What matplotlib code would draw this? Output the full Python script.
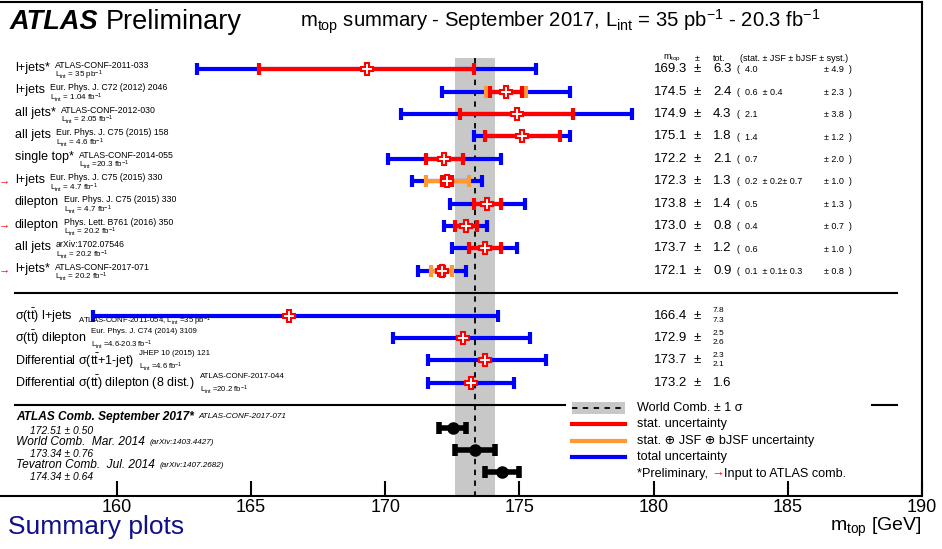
import numpy as np
import matplotlib
matplotlib.use("Agg")
import matplotlib.pyplot as plt
from matplotlib.transforms import blended_transform_factory
from matplotlib.lines import Line2D
from matplotlib.patches import Rectangle

main_font = 'Liberation Sans'
plt.rcParams['font.family'] = [main_font, 'DejaVu Sans']
plt.rcParams['mathtext.fontset'] = 'custom'
plt.rcParams['mathtext.rm'] = main_font
plt.rcParams['mathtext.it'] = main_font + ':italic'
plt.rcParams['mathtext.bf'] = main_font + ':bold'

# ---- data: individual m_top measurements ----
labels = ["l+jets*", "l+jets", "all jets*", "all jets", "single top*",
          "l+jets", "dilepton", "dilepton", "all jets", "l+jets*"]
refs = ["ATLAS-CONF-2011-033", "Eur. Phys. J. C72 (2012) 2046", "ATLAS-CONF-2012-030",
        "Eur. Phys. J. C75 (2015) 158", "ATLAS-CONF-2014-055", "Eur. Phys. J. C75 (2015) 330",
        "Eur. Phys. J. C75 (2015) 330", "Phys. Lett. B761 (2016) 350", "arXiv:1702.07546",
        "ATLAS-CONF-2017-071"]
lumis = [r"= 35 pb$^{-1}$", r"= 1.04 fb$^{-1}$", r"= 2.05 fb$^{-1}$", r"= 4.6 fb$^{-1}$",
         r"=20.3 fb$^{-1}$", r"= 4.7 fb$^{-1}$", r"= 4.7 fb$^{-1}$", r"= 20.2 fb$^{-1}$",
         r"= 20.2 fb$^{-1}$", r"= 20.2 fb$^{-1}$"]
atlas_input = [0, 0, 0, 0, 0, 1, 0, 1, 0, 1]
mtop = [169.3, 174.5, 174.9, 175.1, 172.2, 172.3, 173.8, 173.0, 173.7, 172.1]
tot = [6.3, 2.4, 4.3, 1.8, 2.1, 1.3, 1.4, 0.8, 1.2, 0.9]
stat = [4.0, 0.6, 2.1, 1.4, 0.7, 0.2, 0.5, 0.4, 0.6, 0.1]
jsf = [None, 0.4, None, None, None, 0.2, None, None, None, 0.1]
bjsf = [None, None, None, None, None, 0.7, None, None, None, 0.3]
syst = [4.9, 2.3, 3.8, 1.2, 2.0, 1.0, 1.3, 0.7, 1.0, 0.8]
stat_jsf_bjsf = [np.nan, 0.75, np.nan, np.nan, np.nan, 0.8, np.nan, np.nan, np.nan, 0.4]

# ---- data: cross-section based measurements ----
xs_labels = [r"σ(t$\bar{\rm t}$) l+jets", r"σ(t$\bar{\rm t}$) dilepton",
             r"Differential σ(t$\bar{\rm t}$+1-jet)", r"Differential σ(t$\bar{\rm t}$) dilepton (8 dist.)"]
xs_refs = [r"ATLAS-CONF-2011-054, L$_{\rm int}$ =35 pb$^{-1}$", "Eur. Phys. J. C74 (2014) 3109",
           "JHEP 10 (2015) 121", "ATLAS-CONF-2017-044"]
xs_lumis = [None, r"=4.6-20.3 fb$^{-1}$", r"=4.6 fb$^{-1}$", r"=20.2 fb$^{-1}$"]
xs_mtop = [166.4, 172.9, 173.7, 173.2]
xs_up = [7.8, 2.5, 2.3, 1.6]
xs_dn = [7.3, 2.6, 2.1, 1.6]

# ---- data: combinations ----
comb_names = ["ATLAS Comb. September 2017*", "World Comb.  Mar. 2014", "Tevatron Comb.  Jul. 2014"]
comb_refs = ["ATLAS-CONF-2017-071", "(arXiv:1403.4427)", "(arXiv:1407.2682)"]
comb_vals = [172.51, 173.34, 174.34]
comb_errs = [0.50, 0.76, 0.64]
world_val, world_err = 173.34, 0.76

blue, red, orange, band = '#0000ff', '#ff0000', '#ff9933', '#c8c8c8'

W, H = 942, 549
fig = plt.figure(figsize=(W / 100, H / 100), dpi=100)
ax_w = 922
ax = fig.add_axes([0, 1 - 496 / H, ax_w / W, 494 / H])
ax.set_xlim(155.64, 190.0)
ax.set_ylim(19.05, -3.0)
blend = blended_transform_factory(ax.transAxes, ax.transData)


def fx(px):
    return px / ax_w


def fp(x, y):
    return x / W, 1 - y / H


y_meas = np.arange(10)
y_xs = np.arange(11, 15)
y_comb = np.arange(16, 19)

# world combination band
ax.fill_betweenx([-0.5, 19.05], world_val - world_err, world_val + world_err, color=band, lw=0, zorder=1)
ax.plot([world_val, world_val], [-0.5, 19.05], color='k', lw=1.3, ls=(0, (3, 3)), zorder=2)

eb = dict(fmt='none', capsize=4, capthick=3, elinewidth=3, zorder=3)
mtop_a = np.array(mtop)
ax.errorbar(mtop_a, y_meas, xerr=tot, ecolor=blue, **eb)
sj = np.array(stat_jsf_bjsf)
m = ~np.isnan(sj)
ax.errorbar(mtop_a[m], y_meas[m], xerr=sj[m], ecolor=orange, **eb)
ax.errorbar(mtop_a, y_meas, xerr=stat, ecolor=red, **eb)
ax.plot(mtop_a, y_meas, 'P', ms=8, mfc='white', mec=red, mew=1.5, zorder=4)

ax.errorbar(xs_mtop, y_xs, xerr=[xs_dn, xs_up], ecolor=blue, **eb)
ax.plot(xs_mtop, y_xs, 'P', ms=8, mfc='white', mec=red, mew=1.5, zorder=4)

ax.errorbar(comb_vals, y_comb, xerr=comb_errs, fmt='o', color='k', ms=8,
            capsize=4, capthick=4, elinewidth=4, zorder=4)

# separators
ax.plot([fx(15), fx(897)], [10, 10], transform=blend, color='k', lw=1.5, clip_on=False)
ax.plot([fx(15), fx(565)], [15, 15], transform=blend, color='k', lw=1.5, clip_on=False)
ax.plot([fx(872), fx(897)], [15, 15], transform=blend, color='k', lw=1.5, clip_on=False)

# axes styling
ax.spines['left'].set_visible(False)
for s in ('top', 'right', 'bottom'):
    ax.spines[s].set_linewidth(1.5)
ax.set_yticks([])
ax.set_xticks(np.arange(160, 191, 5))
ax.tick_params(axis='x', direction='in', length=11, width=1.5, pad=2, labelsize=13)

fig.canvas.draw()
rend = fig.canvas.get_renderer()


def right_px(t):
    return t.get_window_extent(rend).x1


# measurement labels
for i, y in enumerate(y_meas):
    t = ax.text(fx(15), y - 0.06, labels[i], transform=blend, fontsize=9, va='center')
    x1 = right_px(t) + 5
    ax.text(fx(x1), y - 0.17, refs[i], transform=blend, fontsize=6.3, va='center')
    ax.text(fx(x1), y + 0.27, r"L$_{\rm int}$ " + lumis[i], transform=blend, fontsize=5.8, va='center')
    if atlas_input[i]:
        ax.text(fx(-1), y - 0.06, "→", transform=blend, fontsize=8, va='center', color=red)
    ax.text(fx(654), y, f"{mtop[i]:.1f}", transform=blend, fontsize=9.5, va='center')
    ax.text(fx(697), y, "±", transform=blend, fontsize=9.5, va='center', ha='center')
    ax.text(fx(713), y, f"{tot[i]:.1f}", transform=blend, fontsize=9.5, va='center')
    br = f"(  {stat[i]:.1f}"
    if jsf[i] is not None:
        br += f"  ± {jsf[i]:.1f}"
    if bjsf[i] is not None:
        br += f"± {bjsf[i]:.1f}"
    ax.text(fx(737), y + 0.03, br, transform=blend, fontsize=6.5, va='center')
    ax.text(fx(824), y + 0.03, f"± {syst[i]:.1f}  )", transform=blend, fontsize=6.5, va='center')

# header
hy = -0.5
ax.text(fx(663), hy, r"m$_{\rm top}$", transform=blend, fontsize=6.5, va='center')
ax.text(fx(697), hy, "±", transform=blend, fontsize=6.5, va='center', ha='center')
ax.text(fx(713), hy, "tot.", transform=blend, fontsize=6.5, va='center')
ax.text(fx(740), hy, "(stat. ± JSF ± bJSF ± syst.)", transform=blend, fontsize=6.5, va='center')

# cross-section labels
for i, y in enumerate(y_xs):
    t = ax.text(fx(15), y, xs_labels[i], transform=blend, fontsize=9, va='center')
    x1 = right_px(t) + 5
    if xs_lumis[i] is None:
        ax.text(fx(x1), y + 0.27, xs_refs[i], transform=blend, fontsize=5.6, va='center', zorder=5)
    else:
        ax.text(fx(x1), y - 0.3, xs_refs[i], transform=blend, fontsize=5.7, va='center')
        ax.text(fx(x1), y + 0.3, r"L$_{\rm int}$ " + xs_lumis[i], transform=blend, fontsize=5.5, va='center')
    ax.text(fx(654), y, f"{xs_mtop[i]:.1f}", transform=blend, fontsize=9.5, va='center')
    ax.text(fx(697), y, "±", transform=blend, fontsize=9.5, va='center', ha='center')
    if xs_up[i] == xs_dn[i]:
        ax.text(fx(713), y, f"{xs_up[i]:.1f}", transform=blend, fontsize=9.5, va='center')
    else:
        ax.text(fx(713), y - 0.22, f"{xs_up[i]:.1f}", transform=blend, fontsize=6, va='center')
        ax.text(fx(713), y + 0.2, f"{xs_dn[i]:.1f}", transform=blend, fontsize=6, va='center')

# combination labels
name_off = [-0.48, -0.36, -0.33]
val_off = [0.15, 0.18, 0.2]
for i, y in enumerate(y_comb):
    t = ax.text(fx(16), y + name_off[i], comb_names[i], transform=blend, fontsize=8.6, va='center',
                style='italic', weight='bold' if i == 0 else 'normal')
    x1 = right_px(t) + 5
    ax.text(fx(x1), y + name_off[i], comb_refs[i], transform=blend, fontsize=5.9, va='center', style='italic')
    ax.text(fx(30), y + val_off[i], f"{comb_vals[i]:.2f} ± {comb_errs[i]:.2f}", transform=blend,
            fontsize=7.4, va='center', style='italic')

# legend (manual, ROOT style)
lx0, lx1, ltx = 572, 625, 637
fig.add_artist(Rectangle(fp(lx0, 414), (lx1 - lx0) / W, 12 / H, color=band, lw=0))
fig.add_artist(Line2D([lx0 / W, lx1 / W], [fp(0, 408)[1]] * 2, color='k', lw=1.3, ls=(0, (3, 3))))
for yy, c in ((424, red), (441, orange), (457, blue)):
    fig.add_artist(Line2D([lx0 / W, lx1 / W], [fp(0, yy)[1]] * 2, color=c, lw=3))
leg_texts = ["World Comb. ± 1 σ", "stat. uncertainty", "stat. ⊕ JSF ⊕ bJSF uncertainty", "total uncertainty"]
for yy, s in zip((408, 424, 441, 457), leg_texts):
    fig.text(*fp(ltx, yy), s, fontsize=9.1, va='center')
t = fig.text(*fp(ltx, 474), "*Preliminary, ", fontsize=9.1, va='center')
x1 = right_px(t)
t = fig.text(*fp(x1, 474), "→", fontsize=9.1, va='center', color=red)
x1 = right_px(t)
fig.text(*fp(x1, 474), "Input to ATLAS comb.", fontsize=9.1, va='center')

# titles
t = fig.text(*fp(10, 22), "ATLAS", fontsize=19.5, weight='bold', style='italic', va='center')
fig.text(*fp(right_px(t) + 7, 22), "Preliminary", fontsize=19.5, va='center')
fig.text(*fp(300, 22), r"m$_{\rm top}$ summary - September 2017, L$_{\rm int}$ = 35 pb$^{-1}$ - 20.3 fb$^{-1}$",
         fontsize=14.6, va='center')
fig.text(*fp(8, 527), "Summary plots", fontsize=19, va='center', color='#10108a')
fig.text(*fp(922, 527), r"m$_{\rm top}$ [GeV]", fontsize=14, va='center', ha='right')

fig.savefig("out.png", dpi=100)
